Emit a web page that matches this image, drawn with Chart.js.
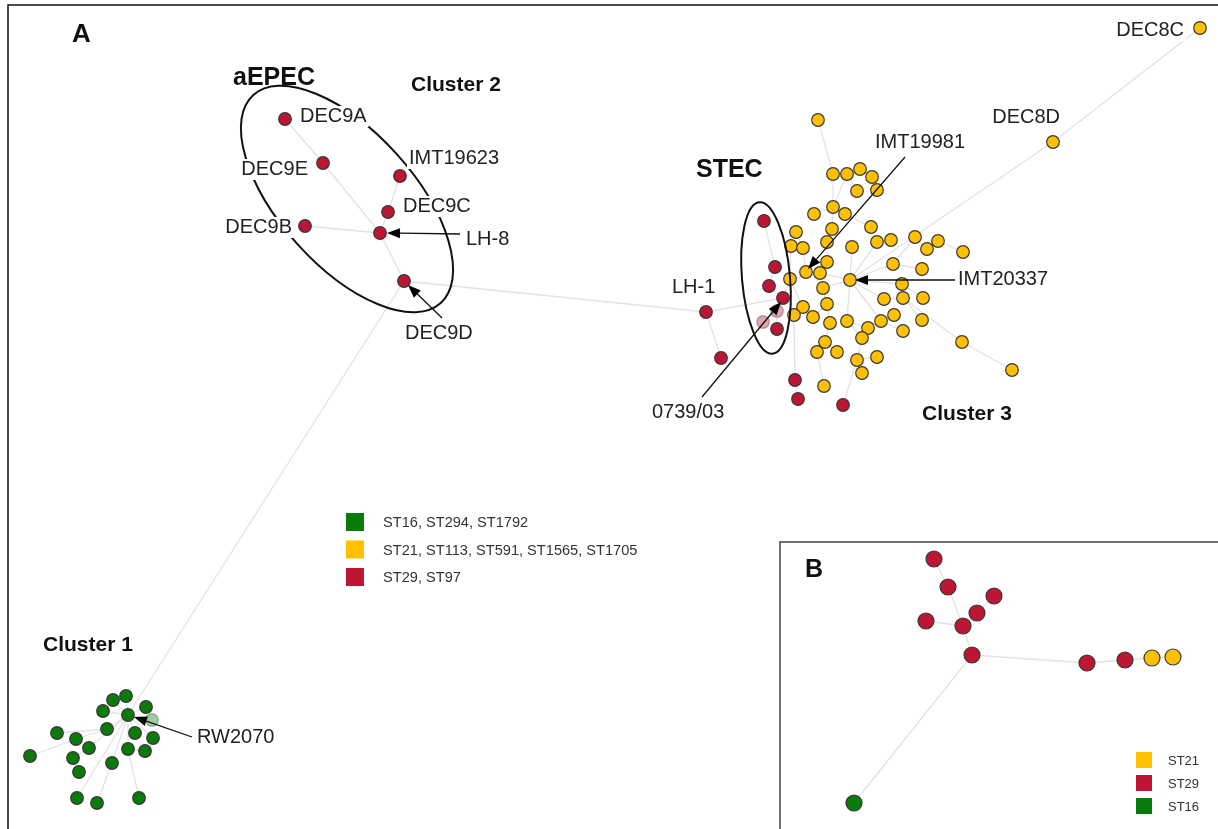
<!DOCTYPE html>
<html>
<head>
<meta charset="utf-8">
<script src="https://cdn.jsdelivr.net/npm/chart.js@4.4.0/dist/chart.umd.min.js"></script>
<style>
  body { margin: 0; background: #fff; }
</style>
</head>
<body>
<canvas id="netChart" width="1218" height="829"></canvas>
<script>
// node layout coordinates, one list per sequence-type group
const greenNodes = [[126,696],[113,700],[103,711],[146,707],[128,715],[152,720],[107,729],[57,733],
  [135,733],[76,739],[153,738],[89,748],[128,749],[145,751],[30,756],[73,758],[112,763],[79,772],
  [77,798],[97,803],[139,798]];
const yellowNodes = [[818,120],[1053,142],[1200,28],[833,174],[847,174],[860,169],[872,177],[857,191],
  [877,190],[814,214],[833,207],[845,214],[796,232],[791,246],[803,248],[832,229],[827,242],[852,247],
  [871,227],[877,242],[891,240],[915,237],[927,249],[938,241],[963,252],[827,262],[806,272],[820,273],
  [790,279],[850,280],[893,264],[922,269],[823,288],[902,284],[884,299],[903,298],[923,298],[827,304],
  [803,307],[794,315],[813,317],[830,323],[847,321],[868,328],[881,321],[894,315],[922,320],[903,331],
  [862,338],[825,342],[817,352],[837,352],[857,360],[877,357],[862,373],[962,342],[1012,370],[824,386]];
const redNodes = [[285,119],[323,163],[400,176],[388,212],[305,226],[380,233],[404,281],
  [764,221],[775,267],[769,286],[783,298],[777,311],[763,322],[777,329],[706,312],[721,358],
  [795,380],[798,399],[843,405]];
const paleNodes = ['r11','r12','g5'];

// minimum spanning tree links
const edges = [
  ['r0','r1'],['r1','r5'],['r2','r3'],['r3','r5'],['r4','r5'],['r5','r6'],['r6','r14'],['r6','g4'],
  ['r14','r15'],['r14','r10'],['r7','r8'],['r8','r9'],['r9','r10'],['r10','r11'],['r11','r12'],['r11','r13'],
  ['r10','y28'],['r16','y39'],['r17','r16'],['r18','y52'],
  ['y29','y1'],['y1','y2'],['y29','y17'],['y29','y19'],['y29','y30'],['y29','y33'],['y29','y34'],
  ['y29','y42'],['y29','y27'],['y29','y32'],['y29','y44'],['y27','y25'],['y25','y16'],['y16','y15'],
  ['y15','y10'],['y10','y3'],['y3','y0'],['y10','y4'],['y4','y5'],['y5','y6'],['y6','y8'],['y7','y4'],
  ['y11','y10'],['y9','y10'],['y18','y11'],['y20','y19'],['y21','y30'],['y22','y21'],['y23','y22'],
  ['y24','y23'],['y31','y30'],['y36','y33'],['y35','y34'],['y46','y35'],['y55','y35'],['y56','y55'],
  ['y45','y44'],['y47','y44'],['y43','y42'],['y48','y42'],['y52','y48'],['y53','y52'],['y54','y52'],
  ['y41','y32'],['y37','y32'],['y40','y37'],['y49','y41'],['y50','y49'],['y51','y49'],['y57','y50'],
  ['y38','y28'],['y39','y38'],['y28','y27'],['y26','y27'],['y14','y26'],['y12','y14'],['y13','y28'],
  ['g4','g0'],['g4','g1'],['g4','g2'],['g4','g3'],['g4','g5'],['g4','g6'],['g6','g7'],['g4','g8'],
  ['g6','g9'],['g9','g14'],['g4','g10'],['g4','g11'],['g11','g15'],['g15','g17'],['g4','g12'],
  ['g12','g13'],['g12','g20'],['g4','g16'],['g16','g19'],['g4','g18']
];

// inset B
const insetRed = [[934,559],[948,587],[994,596],[977,613],[926,621],[963,626],[972,655],[1087,663],[1125,660]];
const insetYellow = [[1152,658],[1173,657]];
const insetGreen = [[854,803]];
const insetEdges = [['br0','br1'],['br1','br5'],['br2','br3'],['br3','br5'],['br4','br5'],['br5','br6'],
  ['br6','br7'],['br7','br8'],['br8','by0'],['by0','by1'],['br6','bg0']];

const legendA = ['ST16, ST294, ST1792', 'ST21, ST113, ST591, ST1565, ST1705', 'ST29, ST97'];
const legendB = ['ST21', 'ST29', 'ST16'];

const nodeLabels = [
  ['r0','DEC9A'],['r1','DEC9E'],['r2','IMT19623'],['r3','DEC9C'],['r4','DEC9B'],
  ['y1','DEC8D'],['y2','DEC8C'],['r14','LH-1']
];
const arrowLabels = [
  ['r5','LH-8'],['r6','DEC9D'],['y26','IMT19981'],['y29','IMT20337'],['r10','0739/03'],['g4','RW2070']
];

const RED = '#bd1533', YELLOW = '#ffc000', GREEN = '#0a7a0a';
const groups = { g: greenNodes, y: yellowNodes, r: redNodes, bg: insetGreen, by: insetYellow, br: insetRed };

function node(key) {
  const m = key.match(/^([a-z]+)(\d+)$/);
  const p = groups[m[1]][+m[2]];
  return { x: p[0], y: p[1] };
}

function nodeSet(prefix, color, pale, radius) {
  const pts = groups[prefix];
  return {
    type: 'scatter',
    data: pts.map(p => ({ x: p[0], y: p[1] })),
    pointRadius: radius,
    pointBackgroundColor: pts.map((p, i) => paleNodes.includes(prefix + i) ? pale : color),
    pointBorderColor: pts.map((p, i) => paleNodes.includes(prefix + i) ? 'rgba(60,60,60,0.4)' : '#383838'),
    pointBorderWidth: 1.2,
    order: 0
  };
}

const datasets = [
  nodeSet('g', GREEN, '#9dcf9d', 6.3),
  nodeSet('y', YELLOW, '#ffe08a', 6.3),
  nodeSet('r', RED, '#e6a3b0', 6.3),
  nodeSet('bg', GREEN, GREEN, 8),
  nodeSet('by', YELLOW, YELLOW, 8),
  nodeSet('br', RED, RED, 8)
];
edges.concat(insetEdges).forEach(e => {
  datasets.push({
    type: 'line',
    data: [node(e[0]), node(e[1])],
    borderColor: '#e2e2e2',
    borderWidth: 1.3,
    pointRadius: 0,
    showLine: true,
    order: 1
  });
});

// label placement: offset in pixels from node centre to text baseline start
const labelPos = {
  DEC9A: [15, 3, 'left'], DEC9E: [-15, 12, 'right'], IMT19623: [9, -12, 'left'],
  DEC9C: [15, 0, 'left'], DEC9B: [-13, 7, 'right'], DEC8D: [7, -19, 'right'],
  DEC8C: [-16, 8, 'right'], 'LH-1': [-34, -19, 'left']
};
// arrow labels: text offset, arrow tail offset, arrow head offset
const arrowPos = {
  'LH-8': [86, 12, 80, 1, 7, 0],
  DEC9D: [1, 58, 38, 37, 4, 4],
  IMT19981: [69, -124, 99, -115, 2, -3],
  IMT20337: [108, 5, 105, 0, 5, 0],
  '0739/03': [-131, 120, -81, 99, -2, 4],
  RW2070: [69, 28, 64, 22, 6, 2]
};

function drawArrow(ctx, x1, y1, x2, y2) {
  const ang = Math.atan2(y2 - y1, x2 - x1);
  const hl = 13, hw = 5;
  ctx.strokeStyle = '#111';
  ctx.lineWidth = 1.3;
  ctx.beginPath();
  ctx.moveTo(x1, y1);
  ctx.lineTo(x2 - hl * Math.cos(ang), y2 - hl * Math.sin(ang));
  ctx.stroke();
  ctx.fillStyle = '#000';
  ctx.beginPath();
  ctx.moveTo(x2, y2);
  ctx.lineTo(x2 - hl * Math.cos(ang) + hw * Math.sin(ang), y2 - hl * Math.sin(ang) - hw * Math.cos(ang));
  ctx.lineTo(x2 - hl * Math.cos(ang) - hw * Math.sin(ang), y2 - hl * Math.sin(ang) + hw * Math.cos(ang));
  ctx.closePath();
  ctx.fill();
}

function labelText(ctx, text, x, y, align) {
  ctx.font = '20px "Liberation Sans", Arial, sans-serif';
  ctx.textAlign = align;
  ctx.textBaseline = 'alphabetic';
  const w = ctx.measureText(text).width;
  const left = align === 'right' ? x - w : x;
  ctx.fillStyle = '#fff';
  ctx.fillRect(left - 2, y - 16, w + 4, 21);
  ctx.fillStyle = '#222';
  ctx.fillText(text, x, y);
}

const framePlugin = {
  id: 'frame',
  beforeDatasetsDraw(chart) {
    const ctx = chart.ctx;
    ctx.save();
    ctx.strokeStyle = '#111';
    ctx.lineWidth = 1.5;
    ctx.beginPath();
    ctx.moveTo(8, 829); ctx.lineTo(8, 5); ctx.lineTo(1218, 5);
    ctx.stroke();
    ctx.strokeStyle = '#444';
    ctx.beginPath();
    ctx.moveTo(780, 829); ctx.lineTo(780, 542); ctx.lineTo(1218, 542);
    ctx.stroke();
    ctx.restore();
  },
  afterDatasetsDraw(chart) {
    const ctx = chart.ctx;
    const sx = chart.scales.x, sy = chart.scales.y;
    const px = k => { const n = node(k); return [sx.getPixelForValue(n.x), sy.getPixelForValue(n.y)]; };
    ctx.save();

    // aEPEC and STEC ellipses
    ctx.strokeStyle = '#111';
    ctx.lineWidth = 2;
    ctx.beginPath();
    ctx.ellipse(sx.getPixelForValue(347), sy.getPixelForValue(199), 140, 67, 48 * Math.PI / 180, 0, Math.PI * 2);
    ctx.stroke();
    ctx.beginPath();
    ctx.ellipse(sx.getPixelForValue(766), sy.getPixelForValue(278), 24, 76, -5 * Math.PI / 180, 0, Math.PI * 2);
    ctx.stroke();

    nodeLabels.forEach(([k, text]) => {
      const [x, y] = px(k);
      const o = labelPos[text];
      labelText(ctx, text, x + o[0], y + o[1], o[2]);
    });
    arrowLabels.forEach(([k, text]) => {
      const [x, y] = px(k);
      const o = arrowPos[text];
      labelText(ctx, text, x + o[0], y + o[1], 'left');
      drawArrow(ctx, x + o[2], y + o[3], x + o[4], y + o[5]);
    });

    // headings
    ctx.fillStyle = '#111';
    ctx.textAlign = 'left';
    ctx.font = 'bold 26px "Liberation Sans", Arial, sans-serif';
    ctx.fillText('A', 72, 42);
    ctx.font = 'bold 25px "Liberation Sans", Arial, sans-serif';
    ctx.fillText('B', 805, 577);
    ctx.fillText('aEPEC', 233, 85);
    ctx.fillText('STEC', 696, 177);
    ctx.font = 'bold 21px "Liberation Sans", Arial, sans-serif';
    ctx.fillText('Cluster 2', 411, 91);
    ctx.fillText('Cluster 3', 922, 420);
    ctx.fillText('Cluster 1', 43, 651);

    // legends
    const colsA = [GREEN, YELLOW, RED];
    ctx.font = '14.6px "Liberation Sans", Arial, sans-serif';
    legendA.forEach((t, i) => {
      const cy = 522 + i * 27.5;
      ctx.fillStyle = colsA[i];
      ctx.fillRect(346, cy - 9, 18, 18);
      ctx.fillStyle = '#333';
      ctx.fillText(t, 383, cy + 5);
    });
    const colsB = [YELLOW, RED, GREEN];
    ctx.font = '13px "Liberation Sans", Arial, sans-serif';
    legendB.forEach((t, i) => {
      const cy = 760 + i * 23;
      ctx.fillStyle = colsB[i];
      ctx.fillRect(1136, cy - 8, 16, 16);
      ctx.fillStyle = '#333';
      ctx.fillText(t, 1168, cy + 5);
    });
    ctx.restore();
  }
};

new Chart(document.getElementById('netChart').getContext('2d'), {
  type: 'scatter',
  data: { datasets: datasets },
  options: {
    responsive: false,
    animation: false,
    layout: { padding: 0, autoPadding: false },
    plugins: { legend: { display: false }, tooltip: { enabled: false } },
    scales: {
      x: { type: 'linear', min: 0, max: 1218, display: false },
      y: { type: 'linear', min: 0, max: 829, reverse: true, display: false }
    }
  },
  plugins: [framePlugin]
});
</script>
</body>
</html>
